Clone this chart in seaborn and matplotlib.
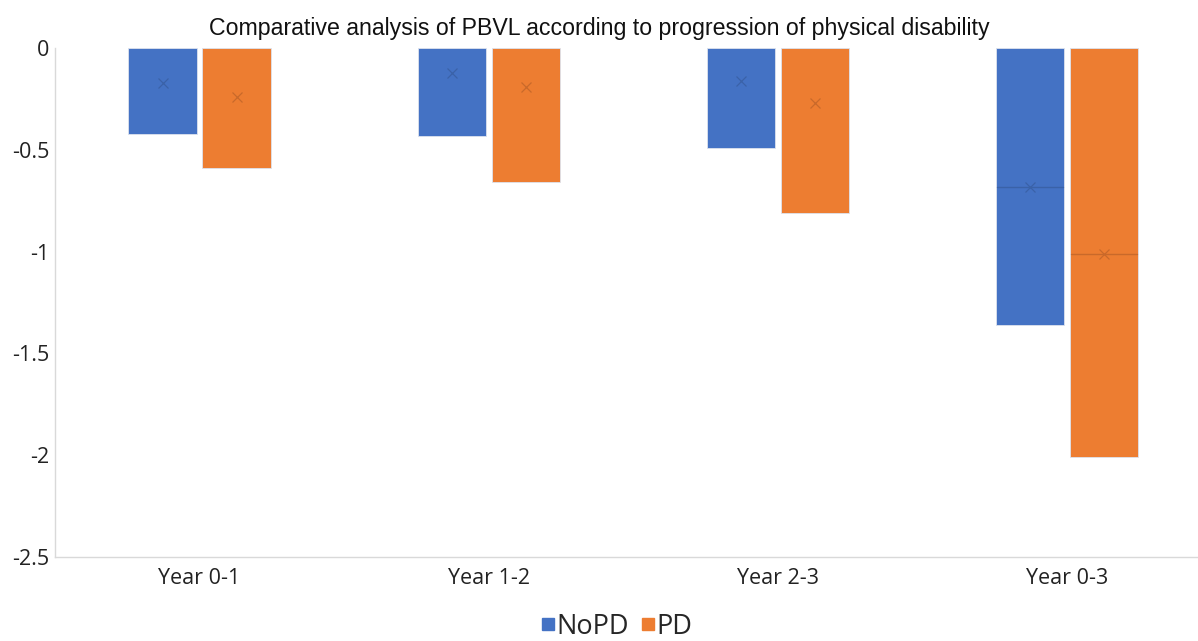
import matplotlib
matplotlib.use("Agg")
import matplotlib.pyplot as plt
import seaborn as sns
import pandas as pd
import numpy as np
from matplotlib.lines import Line2D

categories = ["Year 0-1", "Year 1-2", "Year 2-3", "Year 0-3"]
groups = ["NoPD", "PD"]
box_bottom_nopd = [-0.42, -0.43, -0.49, -1.36]
box_bottom_pd = [-0.59, -0.66, -0.81, -2.01]
mean_nopd = [-0.17, -0.12, -0.16, -0.68]
mean_pd = [-0.24, -0.19, -0.27, -1.01]
median_nopd = [0.0, 0.0, 0.0, -0.68]
median_pd = [0.0, 0.0, 0.0, -1.01]
colors = ["#4472C4", "#ED7D31"]
mean_colors = ["#3A62A8", "#C9692A"]

df = pd.DataFrame({
    "cat": categories * 2,
    "group": [groups[0]] * 4 + [groups[1]] * 4,
    "bottom": box_bottom_nopd + box_bottom_pd,
})

sns.set_theme(style="white")
plt.rcParams["font.family"] = ["Open Sans", "DejaVu Sans"]

fig = plt.figure(figsize=(11.98, 6.41), dpi=100)
ax = fig.add_axes([0.0459, 0.131, 0.9651, 0.794])

sns.barplot(data=df, x="cat", y="bottom", hue="group", order=categories,
            hue_order=groups, palette=colors, width=0.512, gap=0.08,
            saturation=1, edgecolor="#DDE3EE", linewidth=0.6, ax=ax,
            legend=False)

means = [mean_nopd, mean_pd]
medians = [median_nopd, median_pd]
patches = ax.patches
for gi in range(2):
    for ci in range(4):
        p = patches[gi * 4 + ci]
        xc = p.get_x() + p.get_width() / 2
        ax.plot([xc], [means[gi][ci]], marker="x", color=mean_colors[gi],
                markersize=7, mew=0.9, zorder=5)
        if medians[gi][ci] != 0.0:
            ax.plot([p.get_x() + 0.004, p.get_x() + p.get_width() - 0.004],
                    [medians[gi][ci]] * 2, color=mean_colors[gi], lw=1.0, zorder=4)

ax.set_ylim(-2.5, 0)
ax.set_xlim(-0.5, 3.5)
ax.set_yticks([0, -0.5, -1, -1.5, -2, -2.5])
ax.set_yticklabels(["0", "-0.5", "-1", "-1.5", "-2", "-2.5"])
ax.set_xlabel("")
ax.set_ylabel("")
ax.tick_params(axis="both", length=0, labelsize=15.5, colors="#222222")
ax.tick_params(axis="x", pad=8)
ax.tick_params(axis="y", pad=4)
for s in ["top", "right"]:
    ax.spines[s].set_visible(False)
for s in ["left", "bottom"]:
    ax.spines[s].set_color("#D9D9D9")
    ax.spines[s].set_linewidth(1.0)

fig.text(0.5, 0.955, "Comparative analysis of PBVL according to progression of physical disability",
         ha="center", va="center", fontsize=16.7, family=["Liberation Sans", "DejaVu Sans"],
         color="#111111")

handles = [Line2D([], [], marker="s", ls="", color=c, markersize=8) for c in colors]
fig.legend(handles, groups, loc="center", bbox_to_anchor=(0.512, 0.022), ncol=2,
           frameon=False, fontsize=19.5, handletextpad=-0.2, columnspacing=0.2,
           handlelength=1.0)

fig.savefig("out.png", dpi=100)
